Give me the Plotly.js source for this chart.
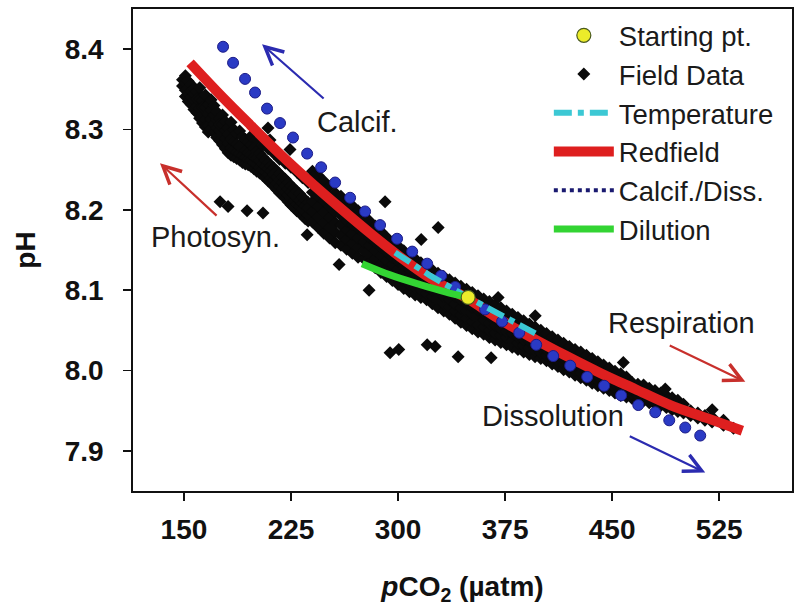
<!DOCTYPE html>
<html>
<head>
<meta charset="utf-8">
<script src="https://cdn.plot.ly/plotly-3.0.1.min.js"></script>
<style>html,body{margin:0;padding:0;background:#fff;}</style>
</head>
<body>
<div id="chart" style="width:797px;height:607px;"></div>
<script>
// ---- Axis ticks ----
const xTicks = [150, 225, 300, 375, 450, 525];
const yTicks = [7.9, 8.0, 8.1, 8.2, 8.3, 8.4];

// ---- Field data (columns of pCO2 with their pH readings) ----
const fieldColPCO2 = [149,151,153,155,157,159,161,163,165,167,169,171,173,175,177,179,181,183,185,187,189,191,193,195,197,199,201,203,205,207,209,211,213,215,217,219,221,223,225,227,229,231,233,235,237,
  240,244,248,252,256,260,264,268,272,276,280,284,288,292,296,300,304,308,312,316,320,324,328,332,336,340,344,348,352,356,360,364,368,372,376,380,384,388,392,396,400,404,408,412,416,420,424,428,432,436,440,444,448,452,456,460,464,468,472,476,480,484,488,492,496,500,505,510,515,520,528,535];
const fieldColPH = [
  [8.362,8.354],[8.367,8.349,8.341,8.358],[8.360,8.345,8.335,8.352],[8.356,8.340,8.331,8.348],[8.351,8.337,8.325,8.344],
  [8.347,8.329,8.321,8.338],[8.352,8.326,8.314,8.338],[8.336,8.318,8.308,8.327],[8.343,8.312,8.303,8.327],[8.331,8.305,8.319,8.297],
  [8.337,8.301,8.313,8.324],[8.330,8.296,8.307,8.318],[8.322,8.290,8.302,8.312],[8.314,8.286,8.299,8.306],[8.318,8.281,8.293,8.306],
  [8.310,8.276,8.289,8.299],[8.302,8.271,8.283,8.294],[8.309,8.268,8.277,8.288],[8.300,8.266,8.275,8.285],[8.295,8.264,8.272,8.282],
  [8.298,8.262,8.270,8.279],[8.291,8.259,8.268,8.277],[8.288,8.257,8.265,8.274],[8.284,8.256,8.263,8.271],[8.281,8.254,8.262,8.269,8.292],
  [8.277,8.251,8.259,8.266],[8.273,8.248,8.256,8.264,8.288],[8.270,8.246,8.253,8.261],[8.266,8.243,8.250,8.257,8.280],[8.262,8.240,8.247,8.254],
  [8.259,8.236,8.244,8.251,8.276],[8.255,8.233,8.240,8.248],[8.252,8.229,8.237,8.244,8.270],[8.248,8.225,8.233,8.241],[8.245,8.221,8.229,8.237,8.263],
  [8.241,8.218,8.226,8.234],[8.238,8.214,8.222,8.230,8.258],[8.234,8.210,8.218,8.226],[8.230,8.206,8.214,8.222,8.253],[8.227,8.203,8.211,8.219],
  [8.223,8.199,8.207,8.215,8.247],[8.220,8.196,8.204,8.212],[8.216,8.193,8.201,8.208,8.240],[8.212,8.189,8.197,8.205],[8.209,8.186,8.194,8.202,8.234],
  [8.185,8.198,8.210,8.222,8.236,8.248],[8.178,8.191,8.204,8.217,8.230,8.243],[8.171,8.184,8.197,8.211,8.223,8.236],[8.165,8.178,8.190,8.204,8.216,8.229],
  [8.159,8.172,8.184,8.197,8.209,8.221],[8.156,8.168,8.181,8.193,8.205,8.217],[8.151,8.163,8.175,8.186,8.199,8.211],[8.146,8.158,8.170,8.182,8.194,8.205],
  [8.141,8.153,8.165,8.177,8.188,8.199],[8.139,8.149,8.160,8.171,8.182,8.192],[8.134,8.145,8.156,8.166,8.176,8.186],[8.128,8.139,8.149,8.160,8.170,8.180],
  [8.122,8.133,8.143,8.153,8.164,8.173],[8.117,8.127,8.137,8.148,8.157,8.166],[8.112,8.122,8.132,8.141,8.151,8.160],[8.107,8.117,8.126,8.136,8.146,8.155],
  [8.102,8.112,8.122,8.131,8.140,8.149],[8.098,8.107,8.117,8.126,8.135,8.144],[8.094,8.103,8.112,8.121,8.130,8.139],[8.091,8.100,8.109,8.117,8.126,8.134],
  [8.088,8.096,8.105,8.113,8.121,8.129],[8.083,8.092,8.100,8.109,8.117,8.125],[8.078,8.087,8.096,8.104,8.113,8.121],[8.074,8.083,8.092,8.100,8.109,8.117],
  [8.070,8.079,8.088,8.096,8.105,8.113],[8.065,8.074,8.083,8.092,8.101,8.109],[8.060,8.069,8.078,8.088,8.097,8.105],[8.056,8.065,8.074,8.083,8.092,8.101],
  [8.052,8.061,8.070,8.079,8.088,8.097],[8.048,8.057,8.066,8.075,8.084,8.093],[8.045,8.054,8.063,8.072,8.081,8.089],[8.041,8.050,8.059,8.068,8.077,8.086],
  [8.038,8.047,8.056,8.065,8.074,8.082],[8.035,8.044,8.052,8.061,8.070,8.078],[8.032,8.041,8.049,8.058,8.066,8.074],[8.029,8.037,8.046,8.054,8.062,8.070],
  [8.026,8.034,8.042,8.050,8.058,8.066],[8.023,8.031,8.039,8.047,8.055,8.062],[8.020,8.028,8.036,8.043,8.051,8.058],[8.017,8.025,8.032,8.040,8.047,8.054],
  [8.015,8.022,8.029,8.036,8.043,8.050],[8.012,8.019,8.026,8.033,8.040,8.046],[8.008,8.015,8.022,8.029,8.036,8.042],[8.005,8.012,8.019,8.025,8.032,8.038],
  [8.001,8.008,8.015,8.021,8.028,8.034],[7.998,8.005,8.011,8.018,8.024,8.030],[7.994,8.001,8.007,8.014,8.020,8.026],[7.991,7.997,8.004,8.010,8.017,8.023],
  [7.988,7.994,8.001,8.007,8.013,8.019],[7.984,7.990,7.997,8.003,8.009,8.015],[7.981,7.987,7.993,7.999,8.005,8.011],[7.978,7.984,7.990,7.996,8.002,8.007],
  [7.975,7.981,7.987,7.992,7.998,8.003],[7.972,7.978,7.983,7.989,7.994,7.999],[7.969,7.975,7.980,7.986,7.991,7.996],[7.967,7.972,7.977,7.982,7.987,7.992],
  [7.965,7.970,7.975,7.980,7.985],[7.963,7.968,7.973,7.978,7.983],[7.962,7.967,7.972,7.977,7.982],[7.960,7.966,7.972,7.978],
  [7.958,7.964,7.970,7.975],[7.956,7.962,7.967,7.972],[7.954,7.960,7.965,7.969],[7.951,7.957,7.962,7.966],
  [7.949,7.955,7.960,7.963],[7.947,7.953,7.958],[7.944,7.950],[7.941,7.947],[7.938,7.944],[7.936,7.942],[7.932,7.938],[7.928]
];
const outlierPCO2 = [175.3,180.9,194.2,205.4,236.3,258.7,279.7,290.9,328.1,316.2,294.4,300.5,320.4,326.0,342.1,365.2,396.1,457.8,487.2,520.1,208.9,210.3,224.3,370.1,240.5];
const outlierPH   = [8.210,8.204,8.199,8.196,8.169,8.132,8.100,8.210,8.178,8.163,8.022,8.026,8.032,8.030,8.017,8.016,8.068,8.010,7.977,7.951,8.302,8.287,8.275,8.091,8.241];

// ---- Model lines ----
const redfieldPCO2 = [154.3,175,196.3,217,238.4,259,280.4,301,322.5,349.1,370,392.6,417,441.6,466,490.7,516,541.2];
const redfieldPH   = [8.383,8.344,8.306,8.270,8.235,8.203,8.171,8.142,8.115,8.089,8.065,8.042,8.019,7.997,7.977,7.957,7.941,7.925];

const calcifPCO2 = [177.4,184.4,192.8,199.8,208.2,217.3,226.4,236.3,246.1,255.9,266.4,276.9,287.4,299.3,309.9,320.4,330.2,340.0,349.1,361.0,372.9,384.9,396.8,408.7,420.6,432.5,444.4,456.3,468.3,480.2,490.0,501.2,511.7];
const calcifPH   = [8.403,8.383,8.363,8.346,8.326,8.308,8.290,8.270,8.253,8.234,8.215,8.198,8.181,8.164,8.148,8.133,8.118,8.104,8.091,8.076,8.061,8.047,8.032,8.018,8.006,7.992,7.981,7.969,7.957,7.948,7.938,7.929,7.919];

const tempPCO2 = [297.9,322.5,349.1,375.0,399.6];
const tempPH   = [8.147,8.118,8.091,8.066,8.043];

const dilutionPCO2 = [274.8,294.4,315.5,333.0,349.1];
const dilutionPH   = [8.133,8.119,8.107,8.098,8.091];

const startPCO2 = [349.1];
const startPH   = [8.091];

// ---- Process labels and arrows ----
const labelText = ['Calcif.', 'Photosyn.', 'Respiration', 'Dissolution'];
const labelPCO2 = [271.3, 171.8, 498.4, 408.7];
const labelPH   = [8.309, 8.166, 8.059, 7.943];
const arrowColor = ['#2b2bb0', '#c8302c', '#c8302c', '#2b2bb0'];
const arrowHeadPCO2 = [204.7, 133.2, 543.3, 515.2];
const arrowHeadPH   = [8.406, 8.258, 7.986, 7.873];
const arrowTailPCO2 = [248.9, 173.9, 489.3, 461.3];
const arrowTailPH   = [8.337, 8.191, 8.032, 7.919];

// build field data
const fieldPCO2 = [];
const fieldPH = [];
fieldColPCO2.forEach((x, i) => fieldColPH[i].forEach(y => { fieldPCO2.push(x); fieldPH.push(y); }));
outlierPCO2.forEach((x, i) => { fieldPCO2.push(x); fieldPH.push(outlierPH[i]); });

const FONT = 'Arial, "Liberation Sans", sans-serif';

const traces = [
  { name: 'Field Data', x: fieldPCO2, y: fieldPH, type: 'scatter', mode: 'markers', legendrank: 2,
    marker: { symbol: 'diamond', size: 10, color: '#0a0a0a' } },
  { name: 'Redfield', x: redfieldPCO2, y: redfieldPH, type: 'scatter', mode: 'lines', legendrank: 4,
    line: { color: '#de1f1f', width: 10, shape: 'spline' } },
  { name: 'Calcif./Diss.', x: calcifPCO2, y: calcifPH, type: 'scatter', mode: 'markers', showlegend: false,
    marker: { symbol: 'circle', size: 11, color: '#2a3ac4', line: { color: '#1c1c88', width: 1 } } },
  { name: 'Calcif./Diss.', x: [null], y: [null], type: 'scatter', mode: 'lines', legendrank: 5,
    line: { color: '#1a1a70', width: 4, dash: 'dot' } },
  { name: 'Temperature', x: tempPCO2, y: tempPH, type: 'scatter', mode: 'lines', legendrank: 3,
    line: { color: '#3cc8d4', width: 6, dash: 'dashdot' } },
  { name: 'Dilution', x: dilutionPCO2, y: dilutionPH, type: 'scatter', mode: 'lines', legendrank: 6,
    line: { color: '#33d433', width: 7, shape: 'spline' } },
  { name: 'Starting pt.', x: startPCO2, y: startPH, type: 'scatter', mode: 'markers', legendrank: 1,
    marker: { symbol: 'circle', size: 14, color: '#ecec2a', line: { color: '#4a5a20', width: 1.2 } } }
];

const annotations = [];
labelText.forEach((t, i) => {
  annotations.push({ x: labelPCO2[i], y: labelPH[i], xref: 'x', yref: 'y', text: t, showarrow: false,
    font: { family: FONT, size: 29, color: '#1a1a1a' } });
});
arrowHeadPCO2.forEach((hx, i) => {
  annotations.push({ x: hx, y: arrowHeadPH[i], ax: arrowTailPCO2[i], ay: arrowTailPH[i],
    xref: 'x', yref: 'y', axref: 'x', ayref: 'y', text: '', showarrow: true,
    arrowhead: 5, arrowsize: 1.6, arrowwidth: 2.2, arrowcolor: arrowColor[i] });
});

const layout = {
  width: 797, height: 607,
  margin: { l: 133, r: 5, t: 9, b: 116 },
  paper_bgcolor: '#ffffff', plot_bgcolor: '#ffffff',
  font: { family: FONT, color: '#111111' },
  showlegend: true,
  legend: { x: 0.631, y: 0.996, xanchor: 'left', yanchor: 'top', bgcolor: 'rgba(0,0,0,0)',
    font: { family: FONT, size: 27.5, color: '#1a1a1a' }, itemwidth: 60, traceorder: 'normal' },
  xaxis: {
    range: [114.3, 576], tickvals: xTicks, ticks: 'outside', ticklen: 8, tickwidth: 1.5, tickcolor: '#111',
    showline: true, linecolor: '#111', linewidth: 1.8, mirror: true, showgrid: false, zeroline: false,
    tickfont: { family: FONT, size: 28, weight: 'bold', color: '#111' }, ticklabelstandoff: 5,
    title: { text: '<i>p</i>CO<sub>2</sub> (µatm)', font: { family: FONT, size: 28, weight: 'bold', color: '#111' }, standoff: 32 }
  },
  yaxis: {
    range: [7.85, 8.45], tickvals: yTicks, tickformat: '.1f', ticks: 'outside', ticklen: 8, tickwidth: 1.5, tickcolor: '#111',
    showline: true, linecolor: '#111', linewidth: 1.8, mirror: true, showgrid: false, zeroline: false,
    tickfont: { family: FONT, size: 28, weight: 'bold', color: '#111' }, ticklabelstandoff: 14,
    title: { text: 'pH', font: { family: FONT, size: 28, weight: 'bold', color: '#111' }, standoff: 21 }
  },
  annotations: annotations
};

Plotly.newPlot('chart', traces, layout, { displayModeBar: false, staticPlot: true });
</script>
</body>
</html>
